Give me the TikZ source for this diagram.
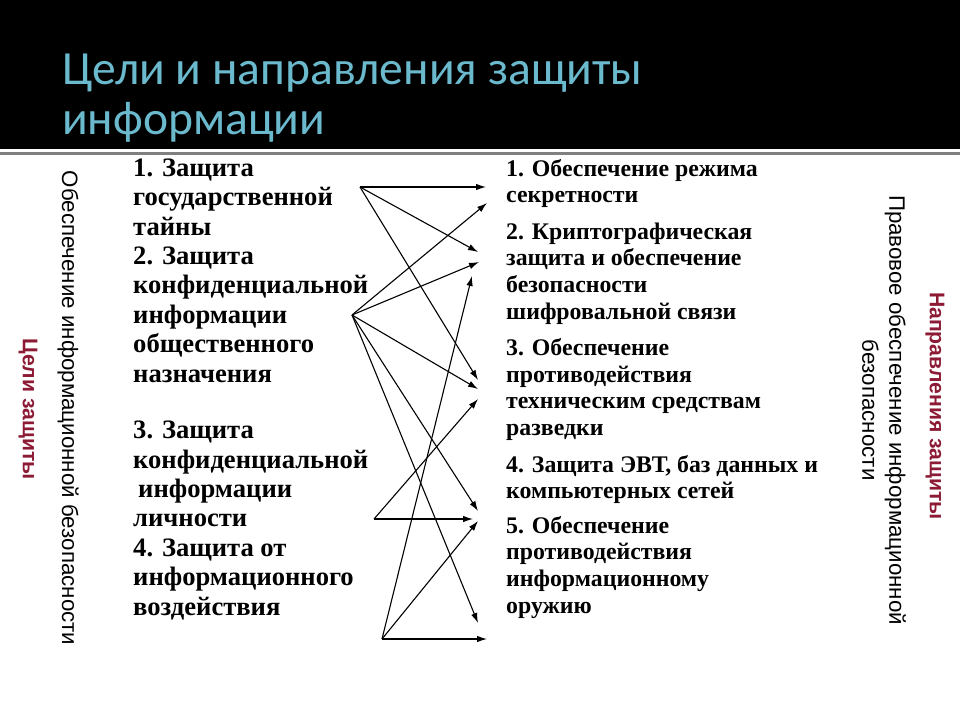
\documentclass[tikz,border=0pt]{standalone}
\usepackage{fontspec}
\setmainfont{Liberation Serif}
\setsansfont{Liberation Sans}
\newfontfamily\titlefont{Carlito}
\usetikzlibrary{arrows.meta}
\definecolor{titleblue}{RGB}{107,185,205}
\definecolor{sidered}{RGB}{140,26,52}

\begin{document}
\begin{tikzpicture}[x=1pt,y=-1pt,>={Latex[length=10pt,width=6.5pt]},
  goal/.style={anchor=base west,align=left,inner sep=0pt,
    font=\bfseries\fontsize{26.6}{29.4}\selectfont},
  way/.style={anchor=base west,align=left,inner sep=0pt,
    font=\bfseries\fontsize{23.8}{26.6}\selectfont},
  side/.style={rotate=-90,align=center,inner sep=0pt,
    font=\sffamily\fontsize{22.3}{27}\selectfont},
  sidehead/.style={rotate=-90,inner sep=0pt,text=sidered,
    font=\sffamily\bfseries\fontsize{21.2}{24}\selectfont},
  link/.style={->,line width=1.1pt}]

% frame and title bar
  \useasboundingbox (0,0) rectangle (960,720);
  \fill[black] (0,0) rectangle (960,149);
  \draw[gray,line width=3pt] (0,153) -- (960,153);
  \node[anchor=base west,align=left,inner sep=0pt,text=titleblue,
    font=\titlefont\fontsize{47.6}{50}\selectfont] (title) at (62,134)
{Цели и направления защиты\\информации};

% side captions
  \node[sidehead] (goalshead) at (28,409) {Цели защиты};
  \node[side]     (goalsside) at (68,408) {Обеспечение информационной безопасности};
  \node[sidehead] (wayshead)  at (935,406) {Направления защиты};
  \node[side]     (waysside)  at (884,410)
{Правовое обеспечение информационной\\безопасности};

% goals and directions (anchored at their last lines)
  \node[goal] (goals12) at (133,382)
{1. Защита\\государственной\\тайны\\2. Защита\\конфиденциальной\\информации\\общественного\\назначения};
  \node[goal] (goals34) at (133,615)
{3. Защита\\конфиденциальной\\\hspace*{5pt}информации\\личности\\4. Защита от\\информационного\\воздействия};
  \node[way] (ways) at (506,613)
{1. Обеспечение режима\\секретности\\[10pt]2. Криптографическая\\защита и обеспечение\\безопасности\\шифровальной связи\\[10pt]3. Обеспечение\\противодействия\\техническим средствам\\разведки\\[10pt]4. Защита ЭВТ, баз данных и\\компьютерных сетей\\[8pt]5. Обеспечение\\противодействия\\информационному\\оружию};

% define the link ends
  \coordinate (s1) at (360,187);
  \coordinate (s2) at (352,315);
  \coordinate (s3) at (374,519);
  \coordinate (s4) at (382,639);
  \coordinate (t1a) at (486,187);
  \coordinate (t1b) at (487,203);
  \coordinate (t2a) at (478,252);
  \coordinate (t2b) at (479,262);
  \coordinate (t2c) at (472,276);
  \coordinate (t3a) at (478,380);
  \coordinate (t3b) at (478,389);
  \coordinate (t3c) at (478,399);
  \coordinate (t4)  at (478,511);
  \coordinate (t5a) at (473,519);
  \coordinate (t5b) at (478,521);
  \coordinate (t5c) at (478,623);
  \coordinate (t6)  at (487,639);

% define the links
  \path[link] (s1) edge (t1a)
                   edge (t2a)
                   edge (t3a)
              (s2) edge (t1b)
                   edge (t2b)
                   edge (t3b)
                   edge (t4)
                   edge (t5c)
              (s3) edge (t3c)
                   edge (t5a)
              (s4) edge (t2c)
                   edge (t5b)
                   edge (t6);
\end{tikzpicture}
\end{document}
